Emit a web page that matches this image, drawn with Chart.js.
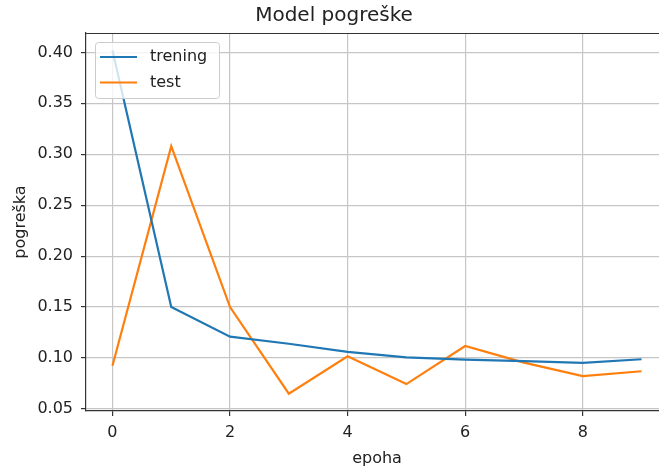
<!DOCTYPE html>
<html>
<head>
<meta charset="utf-8">
<script src="https://cdn.jsdelivr.net/npm/chart.js@4"></script>
<style>
  html, body { margin: 0; padding: 0; background: #fff; overflow: hidden; }
  #wrap { width: 659px; height: 470px; overflow: hidden; }
</style>
</head>
<body>
<div id="wrap"><canvas id="c" width="754" height="470"></canvas></div>
<script>
// loss per epoch
const epochs = [0, 1, 2, 3, 4, 5, 6, 7, 8, 9];
const trainLoss = [0.402, 0.150, 0.121, 0.114, 0.106, 0.1006, 0.0985, 0.097, 0.0953, 0.0988];
const testLoss = [0.0924, 0.308, 0.150, 0.065, 0.1017, 0.0744, 0.1118, 0.0955, 0.0822, 0.087];
const xTicks = [0, 2, 4, 6, 8];
const yTicks = [0.05, 0.10, 0.15, 0.20, 0.25, 0.30, 0.35, 0.40];

const FONT = "'DejaVu Sans', sans-serif";
const TEXT = '#222';
const GRID = '#c6c6c6';

const toPoints = (ys) => epochs.map((x, i) => ({ x, y: ys[i] }));

// top spine + matplotlib-style legend inside the axes
const framePlugin = {
  id: 'frame',
  afterDraw(chart) {
    const { ctx, chartArea: a } = chart;
    ctx.save();
    ctx.strokeStyle = '#333';
    ctx.lineWidth = 1.2;
    ctx.beginPath();
    ctx.moveTo(a.left, a.top + 0.5);
    ctx.lineTo(a.right, a.top + 0.5);
    ctx.stroke();

    ctx.lineWidth = 1;
    ctx.beginPath();
    ctx.roundRect(95.5, 42.5, 124, 56, 3);
    ctx.fillStyle = 'rgba(255,255,255,0.8)';
    ctx.fill();
    ctx.strokeStyle = '#cccccc';
    ctx.stroke();

    ctx.font = '16px ' + FONT;
    ctx.textBaseline = 'middle';
    chart.data.datasets.forEach((ds, i) => {
      const y = 57 + i * 25.5;
      ctx.strokeStyle = ds.borderColor;
      ctx.lineWidth = 2.2;
      ctx.beginPath();
      ctx.moveTo(100, y);
      ctx.lineTo(137, y);
      ctx.stroke();
      ctx.fillStyle = TEXT;
      ctx.fillText(ds.label, 150, y);
    });
    ctx.restore();
  },
};

new Chart(document.getElementById('c'), {
  type: 'line',
  data: {
    datasets: [
      {
        label: 'trening',
        data: toPoints(trainLoss),
        borderColor: '#1f77b4',
        borderWidth: 2.2,
        pointRadius: 0,
        tension: 0,
      },
      {
        label: 'test',
        data: toPoints(testLoss),
        borderColor: '#ff7f0e',
        borderWidth: 2.2,
        pointRadius: 0,
        tension: 0,
      },
    ],
  },
  options: {
    responsive: false,
    animation: false,
    layout: { padding: { left: 0, right: 86, top: 0, bottom: 0 } },
    plugins: {
      legend: { display: false },
      tooltip: { enabled: false },
      title: {
        display: true,
        text: 'Model pogreške',
        color: TEXT,
        font: { family: FONT, size: 20, weight: 'normal' },
        padding: { top: 4, bottom: 5 },
      },
    },
    scales: {
      x: {
        type: 'linear',
        min: -0.45,
        max: 9.45,
        afterBuildTicks(scale) {
          scale.ticks = xTicks.map((v) => ({ value: v }));
        },
        afterFit(scale) {
          scale.height = 59;
        },
        grid: { color: GRID, lineWidth: 1.2, tickLength: 5, tickColor: '#333' },
        border: { display: true, color: '#333', width: 1.2 },
        ticks: { color: TEXT, font: { family: FONT, size: 16 }, padding: 7, maxRotation: 0 },
        title: {
          display: true,
          text: 'epoha',
          color: TEXT,
          font: { family: FONT, size: 16 },
          padding: { top: 0, bottom: 2 },
        },
      },
      y: {
        min: 0.048,
        max: 0.419,
        afterBuildTicks(scale) {
          scale.ticks = yTicks.map((v) => ({ value: v }));
        },
        afterFit(scale) {
          scale.width = 86;
        },
        grid: { color: GRID, lineWidth: 1.2, tickLength: 5, tickColor: '#333' },
        border: { display: true, color: '#333', width: 1.2 },
        ticks: {
          color: TEXT,
          font: { family: FONT, size: 16 },
          padding: 8,
          callback: (v) => v.toFixed(2),
        },
        title: {
          display: true,
          text: 'pogreška',
          color: TEXT,
          font: { family: FONT, size: 16 },
          padding: { top: 11, bottom: 0 },
        },
      },
    },
  },
  plugins: [framePlugin],
});
</script>
</body>
</html>
